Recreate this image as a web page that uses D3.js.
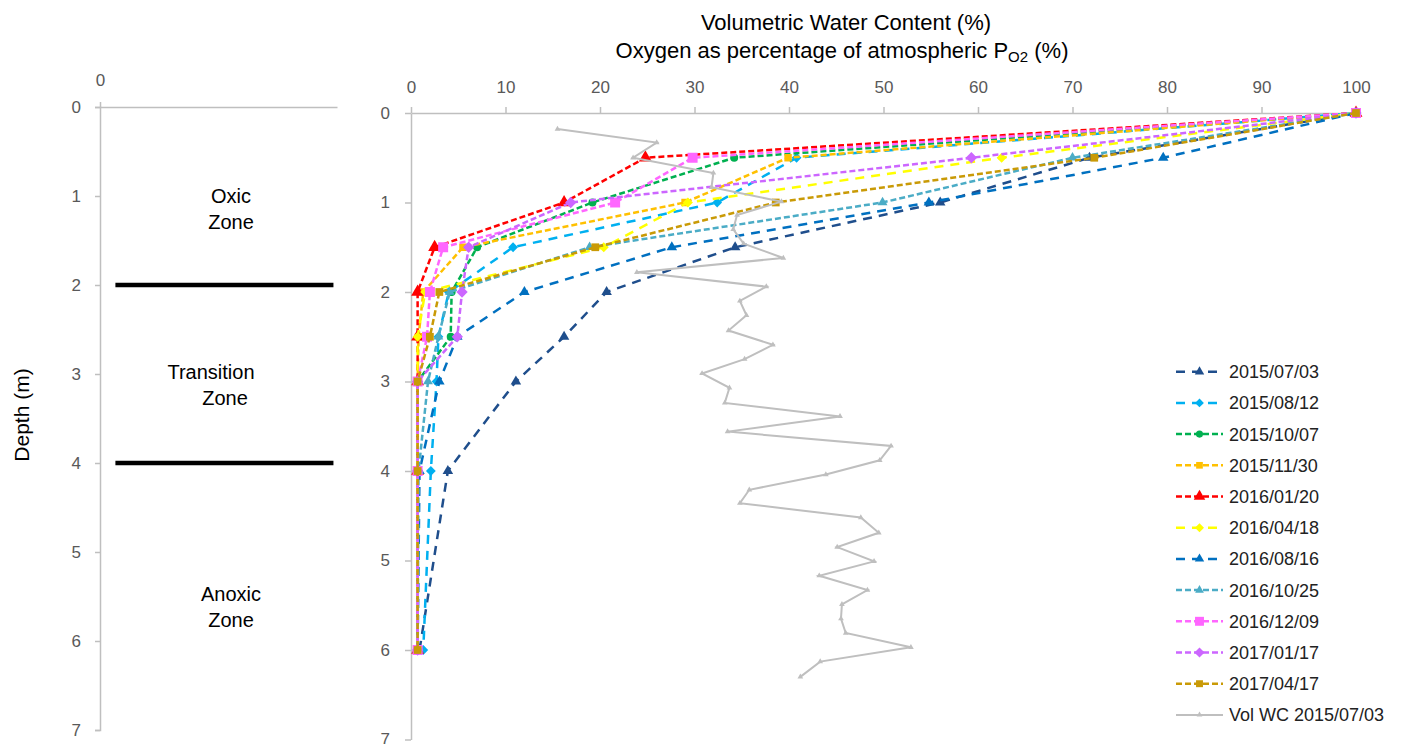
<!DOCTYPE html>
<html>
<head>
<meta charset="utf-8">
<script src="https://cdn.jsdelivr.net/npm/d3@7"></script>
<style>
body{margin:0;background:#fff;font-family:"Liberation Sans",Arial,sans-serif}
svg text{font-family:"Liberation Sans",Arial,sans-serif}
</style>
</head>
<body>
<svg id="chart" width="1402" height="744"></svg>
<script>
// sampling depths (m) of the oxygen profiles
let depths=[0,0.5,1,1.5,2,2.5,3,4,6]

// oxygen as % of atmospheric PO2, one array per sampling date
let o2_150703=[100,71.8,56.0,34.3,20.7,16.2,11.1,3.9,0.9]
let o2_150812=[100,40.8,32.4,10.8,4.0,2.9,2.7,2.1,1.3]
let o2_151007=[100,34.2,19.2,7.0,4.3,4.2,0.7,0.7,0.7]
let o2_151130=[100,39.9,29.0,5.5,1.3,0.8,0.7,0.7,0.7]
let o2_160120=[100,24.8,16.2,2.5,0.7,0.7,0.7,0.7,0.7]
let o2_160418=[100,62.5,29.3,20.4,1.5,0.7,0.7,0.7,0.7]
let o2_160816=[100,79.6,54.8,27.6,12.0,4.9,3.0,0.9,0.7]
let o2_161025=[100,70.0,49.9,18.9,4.1,2.9,1.8,0.8,0.7]
let o2_161209=[100,29.8,21.6,3.4,2.0,1.7,0.7,0.7,0.7]
let o2_170117=[100,59.3,16.9,6.1,5.4,4.9,0.7,0.7,0.7]
let o2_170417=[100,72.3,38.6,19.5,3.0,2.0,0.7,0.7,0.7]

// volumetric water content profile 2015/07/03
let wcDepth=[0.18,0.33,0.50,0.67,0.83,0.99,1.14,1.30,1.46,1.62,1.78,1.94,2.10,2.26,2.43,2.59,2.75,2.91,3.07,3.24,3.39,3.56,3.72,3.88,4.04,4.21,4.36,4.52,4.69,4.85,5.01,5.17,5.33,5.49,5.65,5.81,5.97,6.13,6.30]
let wcValue=[15.5,26.0,23.5,32.0,31.8,39.2,34.5,34.1,35.2,39.4,23.9,37.6,34.8,35.5,33.6,38.3,35.3,30.8,33.7,33.2,45.4,33.5,50.8,49.6,43.9,35.8,34.8,47.6,49.5,45.1,49.0,43.2,48.3,45.6,45.5,46.0,52.9,43.3,41.2]

let dates=["2015/07/03","2015/08/12","2015/10/07","2015/11/30","2016/01/20","2016/04/18","2016/08/16","2016/10/25","2016/12/09","2017/01/17","2017/04/17"]
let o2Series=[o2_150703,o2_150812,o2_151007,o2_151130,o2_160120,o2_160418,o2_160816,o2_161025,o2_161209,o2_170117,o2_170417]

let xTicks=[0,10,20,30,40,50,60,70,80,90,100]
let yTicks=[0,1,2,3,4,5,6,7]

// zone panel
let zoneBounds=[2,4]
let zoneNames=[["Oxic","Zone"],["Transition","Zone"],["Anoxic","Zone"]]
let zoneDepth=[1.0,2.98,5.47]

// styling per series
let styles=[
{color:"#1F4E8C",dash:"9,7",sym:"tri",size:48},
{color:"#00B0F0",dash:"9,7",sym:"dia",size:48},
{color:"#00B050",dash:"6,3",sym:"circle",size:50},
{color:"#FFC000",dash:"6,3",sym:"square",size:56},
{color:"#FF0000",dash:"6,3",sym:"tri",size:72},
{color:"#FFFF00",dash:"9,7",sym:"dia",size:50},
{color:"#0070C0",dash:"9,7",sym:"tri",size:48},
{color:"#4BACC6",dash:"6,3",sym:"tri",size:42},
{color:"#FF66FF",dash:"6,3",sym:"square",size:100},
{color:"#CC66FF",dash:"6,3",sym:"dia",size:64},
{color:"#C99A06",dash:"6,3",sym:"square",size:60}
]

let svg=d3.select("#chart")
let fmt=d3.format("d")

function marker(g,st,x,y,scale){
let s=st.size*(scale||1)
let type=st.sym=="tri"?d3.symbolTriangle:st.sym=="circle"?d3.symbolCircle:d3.symbolSquare
return g.append("path")
.attr("d",d3.symbol().type(type).size(s)())
.attr("fill",st.color)
.attr("transform","translate("+x+","+y+")"+(st.sym=="dia"?" rotate(45)":""))
}

function styleAxis(g){
g.select(".domain").attr("stroke","#BFBFBF").attr("stroke-width",1.5)
g.selectAll(".tick line").attr("stroke","#BFBFBF").attr("stroke-width",1.5)
g.selectAll(".tick text").attr("fill","#595959").attr("font-size","17px")
}

// ---------- left panel ----------
let xL=d3.scaleLinear().domain([0,1]).range([100,337])
let yL=d3.scaleLinear().domain([0,7]).range([107,730])

let gl=svg.append("g").attr("transform","translate(100,0)")
.call(d3.axisLeft(yL).tickValues(yTicks).tickFormat(fmt).tickSize(5).tickPadding(14))
styleAxis(gl)
let gt=svg.append("g").attr("transform","translate(0,107)")
.call(d3.axisTop(xL).tickValues([0]).tickFormat(fmt).tickSize(5).tickPadding(16).tickSizeOuter(0))
styleAxis(gt)

zoneBounds.forEach(d=>{
svg.append("line")
.attr("x1",xL(0.065)).attr("x2",xL(0.985))
.attr("y1",yL(d)).attr("y2",yL(d))
.attr("stroke","#000").attr("stroke-width",4.5)
})

zoneNames.forEach((lines,i)=>{
let t=svg.append("text").attr("font-size","20px").attr("fill","#000")
.attr("text-anchor","middle")
t.append("tspan").attr("x",i==1?211:231).attr("y",yL(zoneDepth[i])+7).text(lines[0])
t.append("tspan").attr("x",i==1?225:231).attr("y",yL(zoneDepth[i])+33).text(lines[1])
})

svg.append("text")
.attr("transform","translate(29,415) rotate(-90)")
.attr("text-anchor","middle").attr("font-size","21px").attr("fill","#000")
.text("Depth (m)")

// ---------- right panel ----------
let x=d3.scaleLinear().domain([0,100]).range([411,1356])
let y=d3.scaleLinear().domain([0,7]).range([113,739.5])

let gy=svg.append("g").attr("transform","translate(411,0)")
.call(d3.axisLeft(y).tickValues(yTicks).tickFormat(fmt).tickSize(6).tickPadding(15).tickSizeOuter(0))
styleAxis(gy)
let gx=svg.append("g").attr("transform","translate(0,113)")
.call(d3.axisTop(x).tickValues(xTicks).tickFormat(fmt).tickSize(6).tickPadding(14).tickSizeOuter(0))
styleAxis(gx)

svg.append("text").attr("font-size","22px").attr("fill","#000").attr("text-anchor","middle")
.attr("x",846).attr("y",30).text("Volumetric Water Content (%)")
let t2=svg.append("text").attr("font-size","22px").attr("fill","#000").attr("text-anchor","middle")
.attr("x",842).attr("y",58)
t2.append("tspan").text("Oxygen  as percentage of atmospheric P")
t2.append("tspan").attr("font-size","15px").attr("dy",4).text("O2")
t2.append("tspan").attr("dy",-4).text(" (%)")

let line=d3.line().x(d=>x(d[0])).y(d=>y(d[1]))

o2Series.forEach((vals,i)=>{
let st=styles[i]
let pts=vals.map((v,j)=>[v,depths[j]])
let g=svg.append("g")
g.append("path").attr("d",line(pts))
.attr("fill","none").attr("stroke",st.color)
.attr("stroke-width",2.5).attr("stroke-dasharray",st.dash)
pts.forEach(p=>marker(g,st,x(p[0]),y(p[1])))
})

// water content
let wcPts=wcValue.map((v,j)=>[v,wcDepth[j]])
let gw=svg.append("g")
gw.append("path").attr("d",line(wcPts))
.attr("fill","none").attr("stroke","#BFBFBF").attr("stroke-width",2)
wcPts.forEach(p=>{
gw.append("path").attr("d",d3.symbol().type(d3.symbolTriangle).size(14)())
.attr("fill","#BFBFBF").attr("transform","translate("+x(p[0])+","+y(p[1])+")")
})

// ---------- legend ----------
let legendNames=dates.concat(["Vol WC 2015/07/03"])
legendNames.forEach((name,i)=>{
let ly=371.7+i*31.2
let g=svg.append("g")
if(i<styles.length){
let st=styles[i]
g.append("line").attr("x1",1176).attr("x2",1223).attr("y1",ly).attr("y2",ly)
.attr("stroke",st.color).attr("stroke-width",2.5).attr("stroke-dasharray",st.dash)
marker(g,st,1199.5,ly,0.8)
}else{
g.append("line").attr("x1",1176).attr("x2",1223).attr("y1",ly).attr("y2",ly)
.attr("stroke","#BFBFBF").attr("stroke-width",2)
g.append("path").attr("d",d3.symbol().type(d3.symbolTriangle).size(14)())
.attr("fill","#BFBFBF").attr("transform","translate(1199.5,"+ly+")")
}
g.append("text").attr("x",1229).attr("y",ly+6.5)
.attr("font-size","18px").attr("fill","#222").text(name)
})
</script>
</body>
</html>
